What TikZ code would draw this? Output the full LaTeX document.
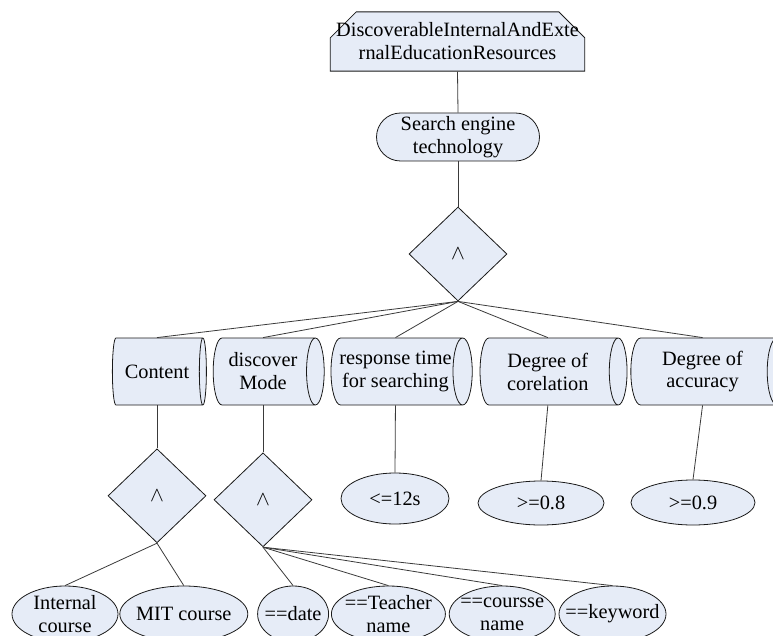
\documentclass[tikz,border=0pt]{standalone}
\usepackage{fontspec}
\setmainfont{Liberation Serif}
\usepackage{xcolor}
\usepackage{tikz}
\usetikzlibrary{positioning,shapes.geometric,shapes.misc}
\definecolor{nodefill}{HTML}{E6ECF7}
\definecolor{edgeline}{HTML}{3A3A3A}
\definecolor{border}{HTML}{1A1A1A}
\tikzset{
  goalbox/.style ={chamfered rectangle,chamfered rectangle corners={north west,north east},
                   chamfered rectangle xsep=12bp,chamfered rectangle ysep=14bp,
                   draw=border,line width=0.8bp,fill=nodefill,align=center,
                   inner xsep=-6bp,inner ysep=-3bp},
  searchbox/.style={rounded rectangle,draw=border,line width=0.8bp,fill=nodefill,
                   align=center,inner sep=0pt,minimum width=163bp,minimum height=48bp},
  andgate/.style ={diamond,draw=border,line width=0.8bp,fill=nodefill,inner sep=0pt,
                   minimum width=98bp,minimum height=94bp},
  datacyl/.style ={cylinder,shape border rotate=0,aspect=0.45,draw=border,line width=0.8bp,
                   fill=nodefill,align=center,inner sep=1bp,minimum width=67bp},
  leaf/.style    ={ellipse,draw=border,line width=0.8bp,fill=nodefill,align=center,
                   inner xsep=-12bp,inner ysep=-8bp},
  link/.style    ={draw=edgeline,line width=0.8bp}
}

\begin{document}
\begin{tikzpicture}[x=1bp,y=-1bp,font=\fontsize{20.4}{23}\selectfont,node distance=6bp]
  \useasboundingbox (0,0) rectangle (773,636);
  % goal, technique and the first and-gate
  \node[goalbox] (goal) at (457.5,41.5) {DiscoverableInternalAndExte\\rnalEducationResources};
  \node[searchbox] (engine) at (458,137) {Search engine\\technology};
  \node[andgate] (topand) at (458,254) {$\wedge$};
  % attributes
  \node[datacyl,minimum height=94bp] (content) at (157,371.5) {Content};
  \node[datacyl,minimum height=111bp,right=of content] (mode) {discover\\Mode};
  \node[datacyl,minimum height=138bp,right=of mode] (resp) {response time\\for searching};
  \node[datacyl,minimum height=147bp,right=7bp of resp] (corel) {Degree of\\corelation};
  \node[datacyl,minimum height=156bp,right=3bp of corel] (accur) {Degree of\\accuracy};
  \node[andgate,below=43bp of content] (contentand) {$\wedge$};
  \node[andgate,below=47bp of mode] (modeand) {$\wedge$};
  % values
  \node[leaf,minimum width=108bp,minimum height=51bp] (le12) at (395,498.5) {<=12s};
  \node[leaf,minimum width=126bp,minimum height=44bp] (ge08) at (541,503) {>=0.8};
  \node[leaf,minimum width=124bp,minimum height=45bp] (ge09) at (693,502.5) {>=0.9};
  \node[leaf,minimum width=106bp,minimum height=56bp] (internal) at (65,614) {Internal\\course};
  \node[leaf,minimum width=128bp,minimum height=56bp,right=1bp of internal] (mit) {MIT course};
  \node[leaf,minimum width=71bp,minimum height=56bp,right=9bp of mit] (date) {==date};
  \node[leaf,minimum width=114bp,minimum height=56bp,right=2bp of date] (teacher) {==Teacher\\name};
  \node[leaf,minimum width=106bp,minimum height=56bp,right=3bp of teacher] (coursse) {==coursse\\name};
  \node[leaf,minimum width=107bp,minimum height=56bp,right=3bp of coursse] (keyword) {==keyword};

  \draw[link] (goal.south) -- (engine.north);
  \draw[link] (engine.south) -- (topand.north);
  \foreach \n in {content,mode,resp,corel,accur}
    \draw[link] (topand.south) -- (\n.north);
  \draw[link] (content.south) -- (contentand.north);
  \draw[link] (mode.south) -- (modeand.north);
  \draw[link] (resp.south) -- (le12.north);
  \draw[link] (corel.south) -- (ge08.north);
  \draw[link] (accur.south) -- (ge09.north);
  \foreach \n in {internal,mit}
    \draw[link] (contentand.south) -- (\n.north);
  \foreach \n in {date,teacher,coursse,keyword}
    \draw[link] (modeand.south) -- (\n.north);
\end{tikzpicture}
\end{document}
